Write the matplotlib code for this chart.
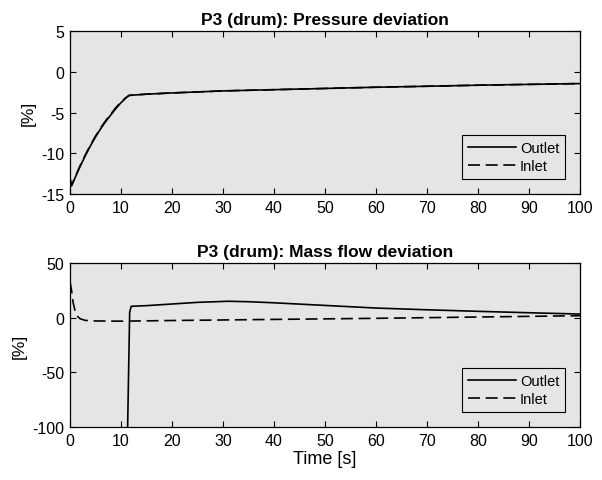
import matplotlib
matplotlib.use("Agg")
import matplotlib.pyplot as plt
import numpy as np

plt.rcParams['font.family'] = ['Liberation Sans', 'DejaVu Sans']
plt.rcParams['axes.unicode_minus'] = False

# Pressure deviation [%]
t_p = [0.0, 0.3, 0.6, 1.0, 2.0, 3.0, 4.0, 5.0, 6.0, 7.0, 8.0, 9.0, 10.0, 11.0, 11.6,
       15, 20, 30, 40, 50, 60, 70, 80, 90, 100]
p_out = [-13.0, -14.0, -13.6, -13.0, -11.6, -10.3, -9.1, -8.0, -7.0, -6.1, -5.3, -4.5, -3.8, -3.2, -2.9,
         -2.75, -2.6, -2.35, -2.2, -2.05, -1.9, -1.78, -1.65, -1.55, -1.45]
p_in = [-13.2, -13.9, -13.5, -12.9, -11.5, -10.2, -9.0, -7.9, -6.9, -6.0, -5.2, -4.4, -3.7, -3.15, -2.9,
        -2.75, -2.6, -2.35, -2.2, -2.05, -1.9, -1.78, -1.65, -1.55, -1.45]

# Mass flow deviation [%]
t_m_out = [0.0, 11.0, 11.3, 11.7, 12.0, 15, 20, 25, 31, 35, 40, 50, 60, 70, 80, 90, 100]
m_out = [-150, -150, -100, 5, 10.4, 11, 12.5, 14, 15, 14.6, 13.6, 11.2, 8.8, 7.2, 5.8, 4.5, 3.3]
t_m_in = [0.0, 0.3, 0.6, 1.0, 1.5, 2.0, 3.0, 5.0, 10, 15, 20, 30, 40, 50, 60, 70, 80, 90, 100]
m_in = [33, 25, 14, 6, 1, -1, -2.5, -3, -3.2, -2.9, -2.6, -2.1, -1.6, -1.1, -0.6, 0, 0.6, 1.2, 1.8]

bg = '#e5e5e5'
dash = (0, (7.2, 3.4))
fig = plt.figure(figsize=(6.02, 4.81), dpi=100)
ax1 = fig.add_axes([70/602, 1-195/481, (580-70)/602, (195-32)/481])
ax2 = fig.add_axes([70/602, 1-428/481, (580-70)/602, (428-264)/481])

for ax in (ax1, ax2):
    ax.set_facecolor(bg)
    ax.tick_params(direction='in', length=4, width=0.8, labelsize=11.5, top=True, right=True,
                   labeltop=False, labelright=False, pad=4)
    for s in ax.spines.values():
        s.set_linewidth(0.9)
    ax.set_xlim(0, 100)
    ax.set_xticks(np.arange(0, 101, 10))
    ax.set_ylabel('[%]', fontsize=12.5, labelpad=4)

ax1.plot(t_p, p_out, color='black', lw=1.2, label='Outlet')
ax1.plot(t_p, p_in, color='black', lw=1.2, ls=dash, label='Inlet')
ax1.set_ylim(-15, 5)
ax1.set_yticks([-15, -10, -5, 0, 5])
ax1.set_title('P3 (drum): Pressure deviation', fontsize=12.5, fontweight='bold', pad=5)

ax2.plot(t_m_out, m_out, color='black', lw=1.2, label='Outlet')
ax2.plot(t_m_in, m_in, color='black', lw=1.2, ls=dash, label='Inlet')
ax2.set_ylim(-100, 50)
ax2.set_yticks([-100, -50, 0, 50])
ax2.set_title('P3 (drum): Mass flow deviation', fontsize=12.5, fontweight='bold', pad=5)
ax2.set_xlabel('Time [s]', fontsize=13, labelpad=2)

for ax in (ax1, ax2):
    leg = ax.legend(loc='lower right', bbox_to_anchor=(0.971, 0.09), fontsize=10.5, frameon=True,
                    fancybox=False, edgecolor='black', facecolor=bg, framealpha=1,
                    handlelength=3.3, borderpad=0.4, labelspacing=0.3, handletextpad=0.3,
                    borderaxespad=0)
    leg.get_frame().set_linewidth(0.8)

fig.savefig('out.png', dpi=100, facecolor='white')
